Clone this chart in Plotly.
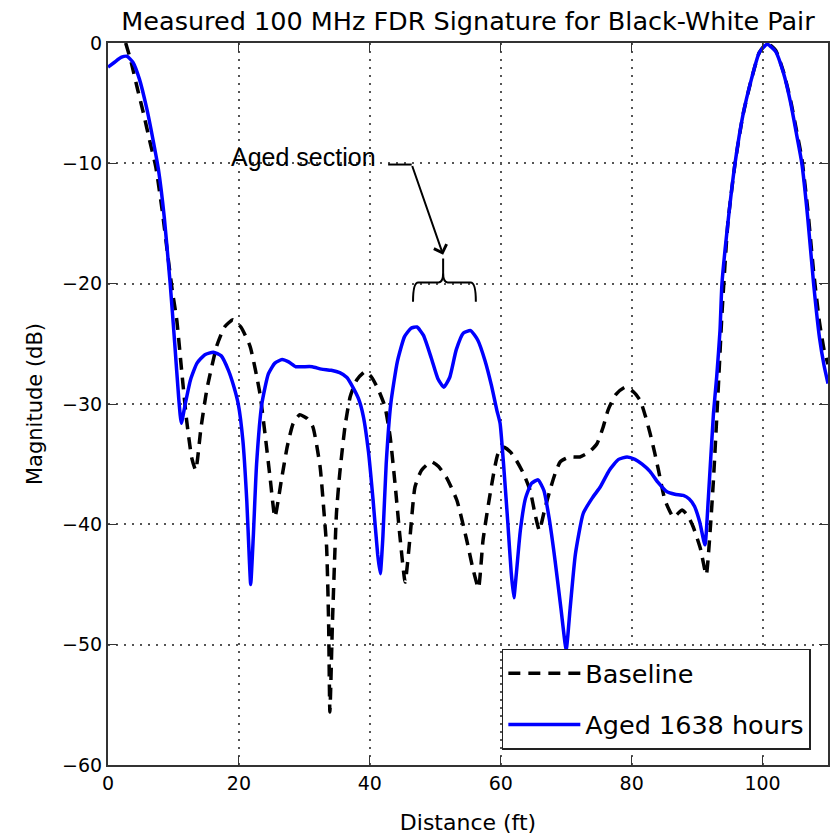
import plotly.graph_objects as go

# ---------------- data ----------------
baseline_x = [2.7, 3.5, 4.5, 5.4, 6.4, 7.3, 8.3, 9.1, 9.8, 10.5, 11.3, 12.0, 12.8, 13.4, 14.2, 15.1,
              16.6, 17.8, 19.1, 20.3, 21.7, 23.2, 24.1, 24.8, 25.5, 26.5, 27.4, 28.3, 29.3, 30.4,
              31.3, 32.4, 33.0, 33.4, 33.7, 33.9, 34.3, 34.9, 35.4, 36.2, 37.0, 38.0, 39.3, 40.3,
              41.3, 42.3, 43.1, 43.9, 44.6, 45.4, 46.1, 46.9, 47.9, 49.4, 50.5, 51.7, 53.3, 54.8,
              55.8, 56.6, 57.3, 58.4, 59.6, 60.5, 61.5, 62.4, 63.5, 64.5, 65.3, 65.9, 66.7, 67.5,
              68.3, 69.1, 70.5, 72.1, 73.5, 74.7, 75.6, 76.4, 77.6, 79.0, 80.3, 81.3, 82.1, 82.8,
              83.5, 84.1, 85.1, 86.4, 87.7, 88.6, 89.4, 90.5, 91.4, 92.0, 92.5, 93.3, 93.8, 94.7,
              95.8, 97.0, 98.3, 99.5, 100.7, 102.0, 103.2, 104.3, 105.2, 106.0, 106.9, 107.8,
              108.7, 109.4, 110.0]
baseline_db = [0.0, -1.5, -3.8, -5.8, -8.2, -10.3, -14.0, -17.5, -20.5, -23.0, -27.5, -31.3, -34.5,
               -35.5, -32.0, -28.8, -25.2, -23.6, -23.0, -23.6, -25.2, -29.1, -33.0, -36.3, -39.4,
               -36.3, -33.5, -31.6, -30.9, -31.2, -31.9, -35.2, -39.0, -41.9, -48.0, -55.6, -48.0,
               -39.1, -35.8, -31.9, -29.4, -28.0, -27.3, -27.8, -28.8, -30.2, -32.7, -36.9, -41.0,
               -44.8, -41.3, -36.9, -35.5, -34.8, -35.2, -36.1, -38.0, -41.3, -43.8, -45.3, -41.3,
               -37.4, -34.1, -33.6, -34.0, -34.7, -35.8, -37.2, -39.3, -40.5, -38.8, -37.2, -35.8,
               -34.8, -34.4, -34.4, -34.0, -33.3, -32.0, -30.5, -29.2, -28.6, -29.0, -29.7, -31.0,
               -32.4, -34.0, -35.5, -38.0, -39.4, -38.8, -39.3, -40.2, -42.0, -44.2, -40.5, -36.3,
               -28.0, -22.5, -15.0, -10.0, -6.0, -3.0, -0.8, 0.0, -0.6, -2.4, -4.8, -7.3, -9.6,
               -13.8, -19.0, -23.2, -25.5, -26.7]

aged_x = [0.0, 1.0, 2.0, 2.9, 3.8, 4.8, 5.9, 6.9, 7.7, 8.6, 9.5, 10.2, 10.8, 11.2, 11.8, 12.6, 13.6,
          14.8, 16.1, 17.3, 18.4, 19.2, 19.9, 20.6, 21.2, 21.6, 21.8, 22.2, 22.7, 23.5, 24.5, 25.5,
          26.6, 27.6, 28.7, 29.8, 31.2, 32.6, 34.1, 35.4, 36.5, 37.4, 38.3, 39.0, 39.8, 40.5, 41.2,
          41.6, 42.0, 42.5, 43.2, 44.2, 45.3, 46.3, 47.2, 48.2, 49.4, 50.4, 51.3, 52.2, 53.2, 54.3,
          55.4, 56.5, 57.6, 58.6, 59.4, 59.9, 60.5, 61.1, 61.6, 62.0, 62.4, 63.0, 63.8, 64.7, 65.7,
          66.6, 67.4, 68.3, 69.2, 70.0, 70.6, 71.4, 72.6, 74.0, 75.2, 76.6, 78.0, 79.3, 80.5, 81.6,
          82.8, 84.0, 85.4, 86.6, 87.9, 88.8, 89.6, 90.4, 91.2, 91.7, 92.5, 93.0, 93.5, 93.8, 94.7,
          95.8, 97.0, 98.3, 99.5, 100.7, 102.0, 103.2, 104.3, 105.2, 106.0, 106.9, 107.8, 108.7,
          109.4, 110.0]
aged_db = [-2.0, -1.6, -1.2, -1.1, -1.6, -3.0, -5.4, -8.1, -10.5, -14.5, -20.0, -25.0, -29.5, -31.6,
           -30.0, -28.0, -26.6, -25.9, -25.7, -26.0, -27.2, -28.5, -30.0, -33.0, -38.0, -43.0, -45.0,
           -41.0, -35.0, -30.0, -27.5, -26.6, -26.3, -26.5, -26.9, -26.9, -26.9, -27.1, -27.2, -27.4,
           -27.8, -28.6, -29.6, -31.0, -34.0, -38.0, -42.5, -44.1, -41.0, -35.0, -30.0, -26.5, -24.4,
           -23.7, -23.6, -24.3, -26.2, -27.9, -28.6, -27.8, -25.5, -24.1, -23.9, -24.7, -26.4, -28.5,
           -30.5, -31.6, -35.5, -40.0, -44.0, -46.1, -44.0, -40.5, -37.8, -36.6, -36.3, -37.2, -39.5,
           -43.0, -47.0, -50.4, -47.0, -42.5, -39.1, -37.8, -36.9, -35.5, -34.6, -34.4, -34.6, -35.0,
           -35.6, -36.5, -37.3, -37.5, -37.6, -37.9, -38.5, -39.8, -41.7, -38.0, -30.8, -27.7, -23.9,
           -20.0, -15.0, -10.0, -6.0, -3.0, -0.8, -0.1, -0.7, -2.5, -5.0, -7.6, -10.0, -14.5, -20.0,
           -24.5, -26.8, -28.3]

series_names = ["Baseline", "Aged 1638 hours"]
title_text = "Measured 100 MHz FDR Signature for Black-White Pair"
x_label = "Distance (ft)"
y_label = "Magnitude (dB)"
x_ticks = [0, 20, 40, 60, 80, 100]
y_ticks = [0, -10, -20, -30, -40, -50, -60]
annotation_text = "Aged section"

# ---------------- figure ----------------
FONT = "DejaVu Sans"
fig = go.Figure()
fig.add_trace(go.Scatter(
    x=baseline_x, y=baseline_db, mode="lines", name=series_names[0],
    line=dict(color="black", width=3.5, dash="12px,8px", shape="spline", smoothing=0.5),
    legendgroup="a"))
fig.add_trace(go.Scatter(
    x=aged_x, y=aged_db, mode="lines", name=series_names[1],
    line=dict(color="#0000ff", width=3.5, shape="spline", smoothing=0.5),
    legendgroup="b"))

axis_common = dict(
    showline=True, linecolor="#333", linewidth=2, mirror="allticks",
    ticks="inside", ticklen=9, tickwidth=1.2, tickcolor="#333",
    showgrid=True, gridcolor="#555", griddash="2px,6px", gridwidth=1.5,
    zeroline=False, tickfont=dict(family=FONT, size=19, color="black"),
    automargin=False,
)
fig.update_xaxes(range=[0, 110], tickvals=x_ticks, **axis_common,
                 title=dict(text=x_label, font=dict(family=FONT, size=22, color="black"), standoff=22))
fig.update_yaxes(range=[-60, 0], tickvals=y_ticks, **axis_common,
                 title=dict(text=y_label, font=dict(family=FONT, size=21, color="black"), standoff=14))

# annotation: text, bent arrow and brace
fig.add_annotation(x=29.9, y=-9.5, xref="x", yref="y", text=annotation_text, showarrow=False,
                   font=dict(family="Liberation Sans", size=25, color="black"))
fig.add_shape(type="line", xref="x", yref="y", x0=42.8, y0=-10.1, x1=46.4, y1=-10.1,
              line=dict(color="black", width=2))
fig.add_annotation(x=51.2, y=-17.6, ax=46.4, ay=-10.1, xref="x", yref="y", axref="x", ayref="y",
                   text="", showarrow=True, arrowhead=4, arrowsize=1.3, arrowwidth=2,
                   arrowcolor="black", standoff=0)
fig.add_shape(type="path", xref="x", yref="y",
              path=("M 46.6,-21.5 Q 46.6,-19.9 47.4,-19.9 L 50.5,-19.9 Q 51.2,-19.9 51.2,-19.1 "
                    "L 51.2,-17.9 M 51.2,-19.1 Q 51.2,-19.9 51.9,-19.9 L 55.4,-19.9 "
                    "Q 56.2,-19.9 56.2,-21.5"),
              line=dict(color="black", width=2))

# the page places the figure 8px in from the top-left corner
fig.update_layout(
    width=830, height=830,
    margin=dict(l=100, r=10, t=35, b=73),
    paper_bgcolor="white", plot_bgcolor="white",
    title=dict(text=title_text, font=dict(family=FONT, size=25.5, color="black"),
               x=0.5, xref="paper", xanchor="center", y=1 - 4 / 830, yanchor="top",
               yref="container", pad=dict(t=0, b=0)),
    legend=dict(x=0.547, y=0.161, xanchor="left", yanchor="top",
                bordercolor="#222", borderwidth=1.5, bgcolor="white",
                font=dict(family=FONT, size=25.5, color="black"),
                traceorder="grouped", tracegroupgap=15, itemwidth=72),
    showlegend=True,
)

fig.write_html("out.html")
